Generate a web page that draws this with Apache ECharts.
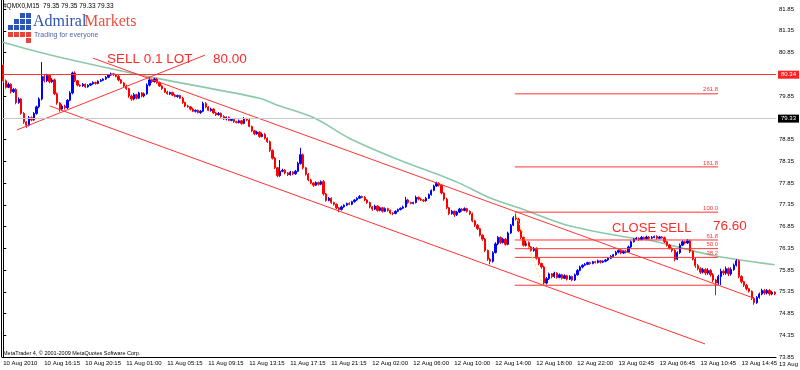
<!DOCTYPE html>
<html><head><meta charset="utf-8">
<script src="https://cdn.jsdelivr.net/npm/echarts@6/dist/echarts.min.js"></script>
<style>html,body{margin:0;padding:0;background:#fff}#c{width:800px;height:370px}</style>
</head><body><div id="c"></div>
<script>
// ---------- data ----------
const firstOpen = 80.56;
const closes = [
80.20,80.05,80.12,79.95,80.00,79.70,79.78,79.45,79.25,79.18,
79.35,79.30,79.45,79.60,79.78,80.30,80.20,80.32,80.18,80.22,
79.90,79.69,79.55,79.62,79.58,79.75,79.92,80.38,80.20,80.10,
80.08,80.12,80.06,80.10,80.13,80.16,80.14,80.19,80.21,80.24,
80.28,80.33,80.36,80.34,80.30,80.22,80.15,80.08,80.02,79.85,
79.78,79.88,79.80,79.92,79.85,79.90,80.10,80.22,80.18,80.24,
80.16,80.08,80.02,79.94,79.90,79.93,79.87,79.84,79.86,79.80,
79.70,79.62,79.60,79.55,79.50,79.52,79.47,79.50,79.68,79.60,
79.52,79.55,79.46,79.42,79.45,79.38,79.32,79.36,79.29,79.31,
79.26,79.24,79.28,79.22,79.33,79.30,79.15,79.05,78.98,79.02,
78.92,78.97,78.88,78.80,78.60,78.42,78.20,78.02,78.12,78.14,
78.08,78.04,78.10,78.06,78.12,78.30,78.50,78.20,78.05,77.92,
77.85,77.80,77.86,77.82,77.88,77.60,77.45,77.50,77.40,77.36,
77.28,77.24,77.30,77.34,77.38,77.36,77.42,77.46,77.50,77.54,
77.52,77.46,77.40,77.30,77.25,77.32,77.22,77.28,77.20,77.26,
77.22,77.16,77.15,77.20,77.24,77.27,77.30,77.46,77.40,77.38,
77.40,77.52,77.48,77.46,77.44,77.50,77.58,77.68,77.78,77.84,
77.80,77.62,77.48,77.28,77.15,77.20,77.12,77.18,77.25,77.22,
77.26,77.20,77.14,76.98,76.88,76.80,76.65,76.56,76.30,76.10,
76.05,76.25,76.45,76.60,76.48,76.56,76.44,76.70,76.88,77.05,
77.02,76.75,76.60,76.42,76.48,76.38,76.30,76.35,76.12,76.00,
75.92,75.55,75.65,75.76,75.70,75.78,75.68,75.74,75.66,75.72,
75.64,75.70,75.62,75.74,75.84,75.92,75.96,75.98,76.02,76.00,
76.04,76.02,76.06,76.03,76.05,76.08,76.12,76.16,76.20,76.26,
76.30,76.24,76.28,76.26,76.38,76.50,76.56,76.58,76.55,76.60,
76.57,76.61,76.58,76.60,76.62,76.58,76.61,76.59,76.50,76.42,
76.35,76.30,76.10,76.25,76.42,76.50,76.47,76.52,76.28,76.10,
75.95,75.88,75.80,75.86,75.78,75.84,75.74,75.62,75.55,75.70,
75.82,75.78,75.88,75.76,75.86,75.96,76.06,75.70,75.58,75.50,
75.42,75.36,75.20,75.10,75.22,75.30,75.38,75.32,75.38,75.30,
75.34,75.30
];
// wick lengths above / below the body, in hundredths
const wickUp = [
4,3,4,2,3,3,4,2,3,2, 4,3,3,3,4,33,5,4,3,4, 3,3,2,4,3,3,4,3,4,2, 2,3,2,2,2,3,2,2,3,2,
3,2,3,2,2,3,2,2,3,2, 3,4,2,3,2,3,4,6,3,3, 2,2,3,2,3,2,2,3,2,2, 3,2,3,2,3,2,2,3,4,3,
2,3,2,2,3,2,3,2,2,3, 2,2,3,2,4,2,3,2,2,3, 2,4,3,2,3,2,3,2,26,4, 3,2,3,2,3,4,16,3,2,3,
3,2,3,2,3,4,2,3,2,2, 2,2,3,2,2,3,2,2,2,3, 2,3,2,2,2,3,2,3,2,3, 2,2,2,2,2,2,3,7,3,2,
2,4,2,3,2,3,3,2,3,4, 3,3,2,3,2,3,2,3,3,2, 3,2,2,3,2,3,2,2,3,2, 3,3,4,3,2,3,2,3,3,4,
13,3,3,2,4,3,2,3,2,3, 2,3,4,3,2,3,2,3,2,3, 2,3,2,3,3,3,2,3,2,2, 2,2,3,2,2,2,2,3,2,3,
2,3,2,3,3,3,2,3,2,3, 2,3,2,3,2,3,2,2,3,2, 3,2,3,3,4,3,2,4,3,2, 3,4,3,4,3,5,3,4,3,4,
6,4,5,3,5,4,4,3,3,2, 3,2,2,3,3,3,4,3,3,3, 3,2
];
const wickDown = [
5,3,2,4,3,4,3,3,4,6, 3,3,2,3,3,3,4,3,4,3, 3,4,6,3,4,3,2,3,3,3, 2,2,3,2,2,2,3,2,2,2,
2,2,2,3,2,3,2,3,3,4, 4,3,3,2,3,3,2,3,3,2, 3,2,3,2,2,3,2,2,3,2, 3,3,2,3,2,3,2,3,2,3,
2,3,2,3,2,3,2,3,2,2, 3,2,2,3,2,3,2,3,3,2, 3,2,3,3,4,3,3,4,3,2, 3,3,2,3,2,2,3,4,3,3,
3,4,2,3,2,4,3,2,3,3, 3,6,2,2,2,2,2,2,2,2, 2,3,3,3,4,2,3,2,3,2, 3,3,4,2,2,2,2,2,3,2,
2,2,3,2,3,2,2,2,2,2, 3,3,4,3,4,3,5,3,2,3, 2,3,3,3,4,3,3,4,4,4, 7,3,2,3,3,2,3,2,2,2,
3,3,4,3,3,4,3,3,3,4, 4,5,3,3,4,3,3,2,3,2, 3,2,3,2,2,2,3,2,2,3, 2,2,2,3,2,2,2,2,2,2,
3,3,2,3,2,2,2,2,3,2, 2,2,3,2,2,3,2,2,3,3, 3,4,5,2,3,2,3,2,4,3, 5,4,4,3,5,4,4,5,28,4,
20,5,4,5,4,3,3,4,4,4, 4,3,4,5,3,3,3,4,3,4, 3,3
];
const tickLabels = ["10 Aug 2010","10 Aug 16:15","10 Aug 20:15","11 Aug 01:00","11 Aug 05:15","11 Aug 09:15",
"11 Aug 13:15","11 Aug 17:15","11 Aug 21:15","12 Aug 02:00","12 Aug 06:00","12 Aug 10:00","12 Aug 14:00",
"12 Aug 18:00","12 Aug 22:00","13 Aug 02:45","13 Aug 06:45","13 Aug 10:45","13 Aug 14:45","13 Aug 18:45"];
const tickEvery = 16;
// moving average (bar index, price)
const maPoints = [[-0.5,81.09],[10,80.92],[25,80.70],[57,80.29],[100,79.80],[107,79.64],[121.6,79.34],
[135,78.88],[152.8,78.42],[177,77.87],[191,77.48],[203.5,77.23],[220,76.88],[244.5,76.59],[252,76.54],
[276.5,76.19],[301,75.97]];
// trend lines: [bar, price] -> [bar, price]
const trendLines = [
  [[35,80.72],[293,75.20]],
  [[18.2,79.62],[273.8,74.15]],
  [[5.3,79.07],[78.7,80.79]]
];
const sellLevel = 80.34, bidLevel = 79.33;
const fibLevels = [["261.8",79.90],["161.8",78.22],["100.0",77.18],["61.8",76.54],["50.0",76.34],["38.2",76.14],["",75.50]];
const fibFrom = 199.6, fibTo = 278.9;
const fibDiag = [[199.6,77.18],[210.6,75.50]];
const yMin = 73.85, yMax = 82.057, yStep = 0.5;

// ---------- build ----------
const N = closes.length;
const cats = closes.map((_, i) => String(i));
const candles = closes.map((c, i) => {
  const o = i === 0 ? firstOpen : closes[i - 1];
  return [o, c, +(Math.min(o, c) - wickDown[i] / 100).toFixed(2), +(Math.max(o, c) + wickUp[i] / 100).toFixed(2)];
});
const RED = '#ff3434';
const series = [{
  type: 'candlestick', data: candles, barWidth: 1.8,
  itemStyle: { color: '#0000ff', color0: '#ff0000', borderColor: '#0000ff', borderColor0: '#ff0000', borderWidth: 1 },
  markLine: {
    silent: true, symbol: ['none', 'none'], animation: false,
    data: [
      { yAxis: sellLevel, lineStyle: { color: RED, width: 1, type: 'solid' },
        label: { show: true, position: 'end', distance: 2, formatter: sellLevel.toFixed(2), color: '#fff', backgroundColor: '#ff2020', fontSize: 6, padding: [1, 3] } },
      { yAxis: bidLevel, lineStyle: { color: '#c8c8c8', width: 1, type: 'solid' },
        label: { show: true, position: 'end', distance: 2, formatter: bidLevel.toFixed(2), color: '#fff', backgroundColor: '#000', fontSize: 6, padding: [1, 3] } }
    ]
  }
}, {
  type: 'line', xAxisIndex: 1, data: maPoints, smooth: 0.3, showSymbol: false, silent: true,
  lineStyle: { color: '#8cc9a9', width: 1.6 }, z: 1
}];
trendLines.forEach(l => series.push({ type: 'line', xAxisIndex: 1, data: l, showSymbol: false, silent: true,
  lineStyle: { color: RED, width: 1 } }));
fibLevels.forEach(([lab, p]) => series.push({ type: 'line', xAxisIndex: 1, silent: true,
  symbol: 'circle', symbolSize: 0, showSymbol: true,
  lineStyle: { color: RED, width: 1 },
  data: [[fibFrom, p], { value: [fibTo, p], label: { show: lab !== '', formatter: lab, position: 'top', align: 'right', distance: 1, color: RED, fontSize: 6 } }] }));
series.push({ type: 'line', xAxisIndex: 1, data: fibDiag, showSymbol: false, silent: true,
  lineStyle: { color: '#f0e050', width: 1, type: [2, 2] } });

const chart = echarts.init(document.getElementById('c'), null, { renderer: 'canvas' });
const FONT = 'Liberation Sans';
chart.setOption({
  animation: false,
  backgroundColor: '#fff',
  textStyle: { fontFamily: FONT },
  grid: { left: 2, right: 24, top: 0, bottom: 13 },
  xAxis: [{
    type: 'category', data: cats, boundaryGap: true,
    axisLine: { lineStyle: { color: '#000', width: 1 } },
    axisTick: { interval: i => i % tickEvery === 0, length: 3, alignWithLabel: true, lineStyle: { color: '#000' } },
    axisLabel: { interval: i => i % tickEvery === 0, formatter: (v, i) => tickLabels[i / tickEvery] || '', fontSize: 6, color: '#000', align: 'left', margin: 3 },
    splitLine: { show: false }
  }, { type: 'value', min: -0.5, max: N - 0.5, show: false }],
  yAxis: {
    type: 'value', position: 'right', min: yMin, max: yMax, interval: yStep, scale: true,
    splitLine: { show: false },
    axisLine: { show: true, lineStyle: { color: '#000' } },
    axisTick: { show: true, length: 3, lineStyle: { color: '#000' } },
    axisLabel: { fontSize: 6, color: '#000', margin: 3, showMaxLabel: false, formatter: v => v.toFixed(2) }
  },
  series,
  graphic: [
    { type: 'line', shape: { x1: 1.5, y1: 0, x2: 1.5, y2: 357 }, style: { stroke: '#000', lineWidth: 1 } },
    { type: 'text', x: 779, y: 364, style: { text: tickLabels[tickLabels.length - 1], font: '6px ' + FONT, fill: '#000', verticalAlign: 'middle' } },
    { type: 'text', x: 3, y: 6, style: { text: '#QMX0,M15  79.35 79.35 79.33 79.33', font: '6.5px ' + FONT, fill: '#000', verticalAlign: 'middle' } },
    // logo squares
    { type: 'group', x: 8, y: 13, children: [
      [2,0],[3,0],[1,1],[2,1],[3,1],[0,2],[1,2],[2,2],[3,2]
    ].map(([c, r]) => ({ type: 'rect', shape: { x: c * 6, y: r * 6, width: 5, height: 5 }, style: { fill: '#2b56b8' } }))
      .concat([[0,3],[1,3],[2,3],[3,3],[3,4]].map(([c, r]) => ({ type: 'rect', shape: { x: c * 6, y: r * 6 + 1, width: 5, height: 5 }, style: { fill: '#e8443a' } }))) },
    { type: 'text', x: 33, y: 30, style: { text: 'Admiral', font: '16px "Liberation Serif"', fill: '#2f55ae', verticalAlign: 'bottom' } },
    { type: 'text', x: 84, y: 30, style: { text: 'Markets', font: '16px "Liberation Serif"', fill: '#e8503e', verticalAlign: 'bottom' } },
    { type: 'text', x: 34, y: 35, style: { text: 'Trading for everyone', font: '7px ' + FONT, fill: '#4f66a8', verticalAlign: 'middle' } },
    // annotations
    { type: 'text', x: 107, y: 59, style: { text: 'SELL 0.1 LOT', font: '13.5px ' + FONT, fill: '#ff2a2a', verticalAlign: 'middle' } },
    { type: 'text', x: 213, y: 59, style: { text: '80.00', font: '13.5px ' + FONT, fill: '#ff2a2a', verticalAlign: 'middle' } },
    { type: 'text', x: 612, y: 228, style: { text: 'CLOSE SELL', font: '13px ' + FONT, fill: '#ff2a2a', verticalAlign: 'middle' } },
    { type: 'text', x: 713, y: 226, style: { text: '76.60', font: '13.5px ' + FONT, fill: '#ff2a2a', verticalAlign: 'middle' } },
    { type: 'text', x: 3, y: 353, style: { text: 'MetaTrader 4, © 2001-2009 MetaQuotes Software Corp.', font: '5.5px ' + FONT, fill: '#000', verticalAlign: 'middle' } }
  ]
});
</script></body></html>
